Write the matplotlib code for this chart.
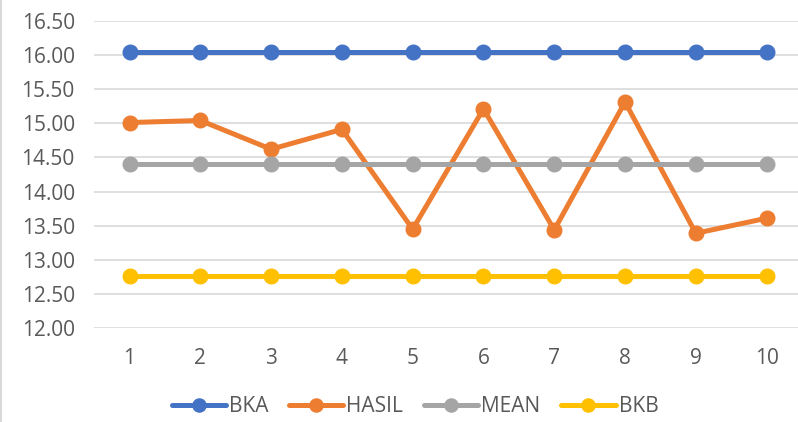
import matplotlib.pyplot as plt
from matplotlib.lines import Line2D

# data
titik = [1, 2, 3, 4, 5, 6, 7, 8, 9, 10]
bka = [16.04] * 10
hasil = [15.01, 15.04, 14.62, 14.91, 13.45, 15.21, 13.44, 15.31, 13.39, 13.61]
mean = [14.40] * 10
bkb = [12.77] * 10

SERIES = [('BKA', bka, '#4472c4'),
          ('HASIL', hasil, '#ed7d31'),
          ('MEAN', mean, '#a5a5a5'),
          ('BKB', bkb, '#ffc000')]

plt.rcParams['font.family'] = ['Open Sans', 'DejaVu Sans']
TXT = '#595959'

fig = plt.figure(figsize=(7.98, 4.22), dpi=100)
ax = fig.add_axes([0.118, 0.222, 0.887, 0.729])

for name, vals, col in SERIES:
    ax.plot(titik, vals, color=col, lw=3.6, marker='o', ms=10.5,
            label=name, solid_capstyle='round', zorder=3)

ax.set_ylim(12.0, 16.5)
ax.set_yticks([12.0 + 0.5 * i for i in range(10)])
ax.set_yticklabels(['%.2f' % (12.0 + 0.5 * i) for i in range(10)])
ax.set_xlim(0.5, 10.5)
ax.set_xticks(titik)
ax.grid(axis='y', color='#d9d9d9', lw=1.2, zorder=0)
for s in ax.spines.values():
    s.set_visible(False)
ax.tick_params(length=0, labelsize=15, colors=TXT)
ax.tick_params(axis='x', pad=14)
ax.tick_params(axis='y', pad=14)

fig.legend(loc='center', bbox_to_anchor=(0.52, 1 - 407 / 422), ncol=4,
           frameon=False, fontsize=15, labelcolor=TXT, handlelength=2.6,
           handletextpad=0.15, columnspacing=1.0, markerscale=0.9)

# faint chart border on the left edge
fig.add_artist(Line2D([0.001, 0.001], [0, 1], color='#d9d9d9', lw=1.5,
                      transform=fig.transFigure))

plt.savefig('out.png', dpi=100)
plt.close()
